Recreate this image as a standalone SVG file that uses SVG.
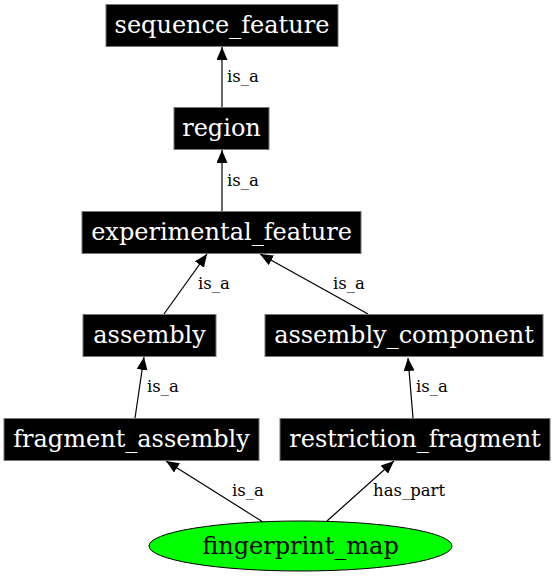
<svg xmlns="http://www.w3.org/2000/svg" width="556" height="576" viewBox="0 0 556 576">
<defs>
<style>
.box{fill:#000;stroke:#777;stroke-width:1}
.nt{font-family:"DejaVu Serif",serif;font-size:24px;fill:#fff;text-anchor:middle}
.nt2{font-family:"DejaVu Serif",serif;font-size:24px;fill:#000;text-anchor:middle}
.e{stroke:#000;stroke-width:1.2;fill:none;marker-end:url(#ah)}
.el{font-family:"DejaVu Serif",serif;font-size:16.5px;fill:#000}
</style>
<marker id="ah" markerUnits="userSpaceOnUse" markerWidth="14" markerHeight="12" refX="13" refY="5.5" orient="auto">
<path d="M0,0 L13,5.5 L0,11 Z" fill="#000"/>
</marker>
</defs>
<rect width="556" height="576" fill="#fff"/>
<g id="edges">
<line class="e" x1="222" y1="108" x2="222" y2="47"/>
<text class="el" x="227" y="82">is_a</text>
<line class="e" x1="222" y1="211" x2="222" y2="150"/>
<text class="el" x="227" y="186">is_a</text>
<line class="e" x1="164" y1="314" x2="207" y2="254"/>
<text class="el" x="198" y="289">is_a</text>
<line class="e" x1="368" y1="314" x2="260" y2="254"/>
<text class="el" x="333" y="289">is_a</text>
<line class="e" x1="135" y1="418" x2="144" y2="357"/>
<text class="el" x="147" y="392">is_a</text>
<line class="e" x1="413" y1="418" x2="408" y2="358"/>
<text class="el" x="416" y="392">is_a</text>
<line class="e" x1="263" y1="522" x2="166" y2="461"/>
<text class="el" x="232" y="496">is_a</text>
<line class="e" x1="327" y1="521" x2="394" y2="461"/>
<text class="el" x="373" y="496">has_part</text>
</g>
<g id="sequence_feature"><rect class="box" x="106" y="4.5" width="232" height="42"/><text class="nt" x="222" y="33">sequence_feature</text></g>
<g id="region"><rect class="box" x="174" y="107.5" width="95" height="42"/><text class="nt" x="221.5" y="136">region</text></g>
<g id="experimental_feature"><rect class="box" x="82" y="211.5" width="279" height="42"/><text class="nt" x="221.5" y="240">experimental_feature</text></g>
<g id="assembly"><rect class="box" x="83" y="314.5" width="133" height="42"/><text class="nt" x="149.5" y="343">assembly</text></g>
<g id="assembly_component"><rect class="box" x="265" y="314.5" width="278" height="42"/><text class="nt" x="404" y="343">assembly_component</text></g>
<g id="fragment_assembly"><rect class="box" x="4" y="418.5" width="255" height="42"/><text class="nt" x="131.5" y="447">fragment_assembly</text></g>
<g id="restriction_fragment"><rect class="box" x="280" y="418.5" width="270" height="42"/><text class="nt" x="415" y="447">restriction_fragment</text></g>
<g id="fingerprint_map"><ellipse cx="300.5" cy="546" rx="151.5" ry="25" fill="#00ff00" stroke="#000" stroke-width="1"/><text class="nt2" x="300.5" y="554">fingerprint_map</text></g>
</svg>
